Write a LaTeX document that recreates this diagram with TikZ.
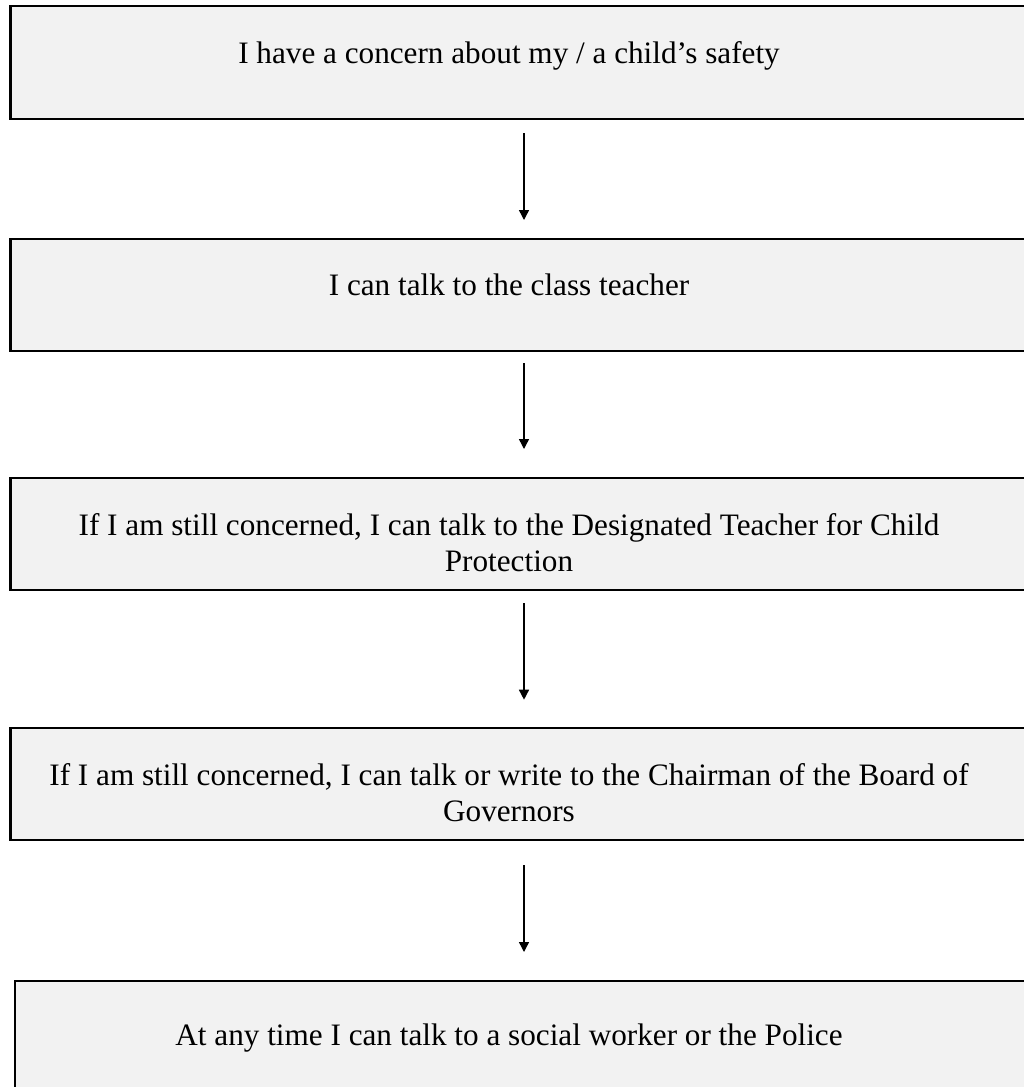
\documentclass[tikz,border=0pt]{standalone}
\usepackage{fontspec}
\setmainfont{Liberation Serif}
\usetikzlibrary{arrows.meta}
\definecolor{boxfill}{HTML}{F2F2F2}
\begin{document}
\begin{tikzpicture}[x=1pt,y=-1pt,
  flowbox/.style={draw=black, line width=2.2pt, fill=boxfill, rectangle,
    anchor=north west, inner sep=0pt, outer sep=0pt,
    minimum width=1027pt, minimum height=#1},
  flowtext/.style={anchor=base, inner sep=0pt,
    font=\fontsize{31.2pt}{36pt}\selectfont},
  flowarrow/.style={line width=1.4pt, -{Triangle[width=10pt,length=10pt]}}
]
\useasboundingbox (0,0) rectangle (1024,1087);
\clip (0,0) rectangle (1024,1087);
\node[flowbox=113pt] (b1) at (10.5,6) {};
\node[flowbox=112.3pt] (b2) at (10.5,238.7) {};
\node[flowbox=112pt] (b3) at (10.5,478) {};
\node[flowbox=112.6pt] (b4) at (10.5,727.7) {};
\node[flowbox=113pt] (b5) at (15,981) {};

\node[flowtext] (t1) at (509,63) {I have a concern about my / a child’s safety};
\node[flowtext] (t2) at (509,295.7) {I can talk to the class teacher};
\node[flowtext] (t3) at (509,535) {\begin{tabular}[t]{@{}c@{}}If I am still concerned, I can talk to the Designated Teacher for Child\\Protection\end{tabular}};
\node[flowtext] (t4) at (509,785) {\begin{tabular}[t]{@{}c@{}}If I am still concerned, I can talk or write to the Chairman of the Board of\\Governors\end{tabular}};
\node[flowtext] (t5) at (509,1045) {At any time I can talk to a social worker or the Police};

\draw[flowarrow, shorten <=14pt, shorten >=18.7pt] (b1.south) -- (b2.north);
\draw[flowarrow, shorten <=12pt, shorten >=29pt] (b2.south) -- (b3.north);
\draw[flowarrow, shorten <=13pt, shorten >=28pt] (b3.south) -- (b4.north);
\draw[flowarrow, shorten <=24.7pt, shorten >=29pt] (b4.south) -- (b4.south |- b5.north);
\end{tikzpicture}
\end{document}
